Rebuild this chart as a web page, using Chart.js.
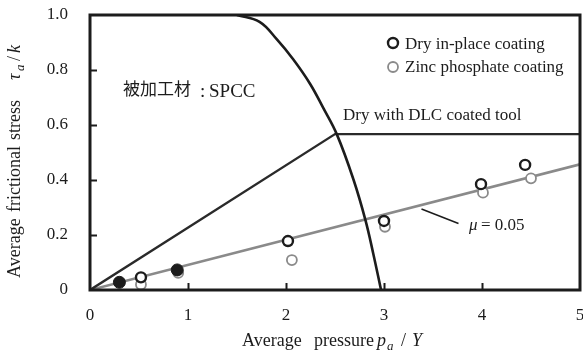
<!DOCTYPE html>
<html>
<head>
<meta charset="utf-8">
<script src="https://cdn.jsdelivr.net/npm/chart.js@4/dist/chart.umd.min.js"></script>
<style>
  html, body { margin: 0; padding: 0; background: #fff; }
  canvas { display: block; }
</style>
</head>
<body>
<canvas id="c" width="583" height="354"></canvas>
<script>
// Axis ticks
const xTicks = [0, 1, 2, 3, 4, 5];
const yTicks = [0, 0.2, 0.4, 0.6, 0.8, 1.0];

// Friction line mu = 0.05 (tau/k against p/Y)
const muLineX = [0, 5];
const muLineY = [0, 0.457];

// Dry with DLC coated tool
const dlcX = [0, 2.5, 5];
const dlcY = [0, 0.567, 0.567];

// Limit curve
const limitX = [1.50, 1.73, 1.905, 2.075, 2.245, 2.38, 2.52, 2.69, 2.81, 2.89, 2.97];
const limitY = [1.00, 0.975, 0.912, 0.838, 0.750, 0.662, 0.565, 0.400, 0.255, 0.133, 0.000];

// Dry in-place coating
const dryOpenX = [0.52, 2.02, 3.00, 3.99, 4.44];
const dryOpenY = [0.046, 0.178, 0.251, 0.385, 0.455];
const dryFilledX = [0.30, 0.89];
const dryFilledY = [0.028, 0.073];

// Zinc phosphate coating
const zincX = [0.52, 0.90, 2.06, 3.01, 4.01, 4.50];
const zincY = [0.020, 0.062, 0.109, 0.230, 0.354, 0.406];

const pts = (xs, ys) => xs.map((x, i) => ({ x: x, y: ys[i] }));

const SERIF = "'Liberation Serif', 'Times New Roman', serif";
const CJK = "'Noto Sans CJK JP', 'Noto Sans CJK SC', sans-serif";
const INK = '#1c1c1c';
const GREY = '#8a8a8a';
const PLOT_RIGHT_GAP = 3;

function drawRuns(ctx, runs) {
  runs.forEach(r => {
    ctx.font = r.font;
    ctx.fillText(r.t, r.x, r.y);
  });
}

function noOverflow(s) {
  s.paddingLeft = 0; s.paddingRight = 0;
  s.paddingTop = 0; s.paddingBottom = 0;
}

// let the plot run almost to the canvas edge, even though the last x label overhangs
const stretchX = {
  id: 'stretchX',
  afterLayout(chart) {
    const x = chart.scales.x;
    const r = chart.width - PLOT_RIGHT_GAP;
    x.right = r;
    x.width = r - x.left;
    chart.chartArea.right = r;
    chart.chartArea.width = r - chart.chartArea.left;
    x.configure();
  }
};

const decor = {
  id: 'decor',
  afterDatasetsDraw(chart) {
    const { ctx, chartArea: a, scales: { x, y } } = chart;
    ctx.save();
    ctx.fillStyle = INK;
    ctx.strokeStyle = INK;
    ctx.lineCap = 'butt';

    // inward tick marks
    ctx.lineWidth = 2;
    ctx.beginPath();
    xTicks.slice(1, -1).forEach(v => {
      const px = Math.round(x.getPixelForValue(v)) + 0.5;
      ctx.moveTo(px, a.bottom);
      ctx.lineTo(px, a.bottom - 7);
    });
    yTicks.slice(1, -1).forEach(v => {
      const py = Math.round(y.getPixelForValue(v)) + 0.5;
      ctx.moveTo(a.left, py);
      ctx.lineTo(a.left + 7, py);
    });
    ctx.stroke();

    // frame
    ctx.lineWidth = 3;
    ctx.strokeRect(a.left, a.top, a.right - a.left, a.bottom - a.top);

    // legend
    ctx.lineWidth = 2.4;
    ctx.strokeStyle = INK;
    ctx.fillStyle = '#fff';
    ctx.beginPath(); ctx.arc(393, 43, 5, 0, Math.PI * 2); ctx.fill(); ctx.stroke();
    ctx.lineWidth = 1.8;
    ctx.strokeStyle = GREY;
    ctx.beginPath(); ctx.arc(393, 67, 5, 0, Math.PI * 2); ctx.fill(); ctx.stroke();

    ctx.fillStyle = INK;
    ctx.textAlign = 'left';
    ctx.textBaseline = 'alphabetic';
    ctx.font = `17px ${SERIF}`;
    ctx.fillText('Dry in-place coating', 405, 48.5);
    ctx.fillText('Zinc phosphate coating', 405, 72);

    // curve label
    ctx.fillText('Dry with DLC coated tool', 343, 120);

    // workpiece label
    ctx.font = `17px ${CJK}`;
    ctx.textBaseline = 'middle';
    ctx.fillText('被加工材', 123, 89);
    ctx.textBaseline = 'alphabetic';
    ctx.font = `19px ${SERIF}`;
    ctx.fillText(':', 200, 97);
    ctx.fillText('SPCC', 209, 97);

    // friction coefficient label with leader
    ctx.strokeStyle = INK;
    ctx.lineWidth = 1.5;
    ctx.beginPath();
    ctx.moveTo(421.5, 209);
    ctx.lineTo(458.5, 223.5);
    ctx.stroke();
    drawRuns(ctx, [
      { t: 'μ', x: 469, y: 230, font: `italic 17px ${SERIF}` },
      { t: '= 0.05', x: 481, y: 230, font: `17px ${SERIF}` }
    ]);

    // x-axis title
    drawRuns(ctx, [
      { t: 'Average', x: 242, y: 346, font: `18px ${SERIF}` },
      { t: 'pressure', x: 314, y: 346, font: `18px ${SERIF}` },
      { t: 'p', x: 377, y: 346, font: `italic 18px ${SERIF}` },
      { t: 'a', x: 387, y: 350, font: `italic 13px ${SERIF}` },
      { t: '/', x: 401, y: 346, font: `18px ${SERIF}` },
      { t: 'Y', x: 412, y: 346, font: `italic 18px ${SERIF}` }
    ]);

    // y-axis title (rotated)
    ctx.save();
    ctx.translate(20, 278);
    ctx.rotate(-Math.PI / 2);
    drawRuns(ctx, [
      { t: 'Average', x: 0, y: 0, font: `18px ${SERIF}` },
      { t: 'frictional', x: 66, y: 0, font: `18px ${SERIF}` },
      { t: 'stress', x: 138, y: 0, font: `18px ${SERIF}` },
      { t: 'τ', x: 198, y: 0, font: `italic 18px ${SERIF}` },
      { t: 'a', x: 207, y: 4, font: `italic 13px ${SERIF}` },
      { t: '/', x: 217, y: 0, font: `18px ${SERIF}` },
      { t: 'k', x: 225, y: 0, font: `italic 18px ${SERIF}` }
    ]);
    ctx.restore();

    ctx.restore();
  }
};

new Chart(document.getElementById('c'), {
  type: 'scatter',
  data: {
    datasets: [
      {
        label: 'Dry in-place coating (filled)',
        data: pts(dryFilledX, dryFilledY),
        pointRadius: 6, pointBorderWidth: 1,
        pointBackgroundColor: INK, pointBorderColor: INK,
        showLine: false
      },
      {
        label: 'Dry in-place coating',
        data: pts(dryOpenX, dryOpenY),
        pointRadius: 5, pointBorderWidth: 2.4,
        pointBackgroundColor: '#fff', pointBorderColor: INK,
        showLine: false
      },
      {
        label: 'Zinc phosphate coating',
        data: pts(zincX, zincY),
        pointRadius: 5, pointBorderWidth: 1.8,
        pointBackgroundColor: '#fff', pointBorderColor: GREY,
        showLine: false
      },
      {
        label: 'Limit',
        data: pts(limitX, limitY),
        showLine: true, pointRadius: 0,
        borderColor: INK, borderWidth: 2.6,
        tension: 0.4
      },
      {
        label: 'Dry with DLC coated tool',
        data: pts(dlcX, dlcY),
        showLine: true, pointRadius: 0,
        borderColor: '#2a2a2a', borderWidth: 2.4, tension: 0
      },
      {
        label: 'mu = 0.05',
        data: pts(muLineX, muLineY),
        showLine: true, pointRadius: 0,
        borderColor: GREY, borderWidth: 2.6, tension: 0
      }
    ]
  },
  options: {
    responsive: false,
    animation: false,
    devicePixelRatio: 1,
    layout: { padding: { top: 15, right: PLOT_RIGHT_GAP, left: 0, bottom: 0 } },
    plugins: { legend: { display: false }, tooltip: { enabled: false } },
    scales: {
      x: {
        type: 'linear', min: 0, max: 5,
        grid: { display: false }, border: { display: false },
        afterBuildTicks: s => { s.ticks = xTicks.map(v => ({ value: v })); },
        afterFit: s => { s.height = 64; noOverflow(s); },
        ticks: {
          font: { family: SERIF, size: 17 }, color: INK, padding: 7,
          maxRotation: 0, autoSkip: false,
          callback: v => String(v)
        }
      },
      y: {
        type: 'linear', min: 0, max: 1,
        grid: { display: false }, border: { display: false },
        afterBuildTicks: s => { s.ticks = yTicks.map(v => ({ value: v })); },
        afterFit: s => { s.width = 90; noOverflow(s); },
        ticks: {
          font: { family: SERIF, size: 17 }, color: INK, padding: 14,
          autoSkip: false,
          callback: v => (v === 0 ? '0' : v.toFixed(1))
        }
      }
    }
  },
  plugins: [stretchX, decor]
});
</script>
</body>
</html>
